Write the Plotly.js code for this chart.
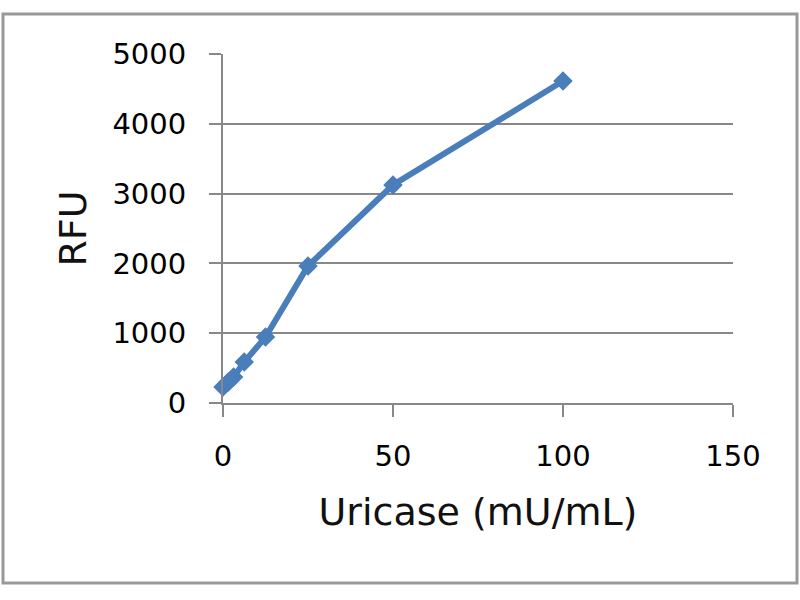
<!DOCTYPE html>
<html><head><meta charset="utf-8">
<script src="https://cdn.plot.ly/plotly-3.0.1.min.js"></script>
<style>html,body{margin:0;padding:0;background:#fff}#chart{width:800px;height:600px}</style>
</head><body><div id="chart"></div>
<script>
const uricase = [0, 1.5625, 3.125, 6.25, 12.5, 25, 50, 100];
const rfu = [230, 300, 372, 587, 945, 1963, 3123, 4613];
const xTicks = [0, 50, 100, 150];
const yTicks = [0, 1000, 2000, 3000, 4000, 5000];

const L = 223, R = 733, T = 54, B = 403;
const px = p => (p - L) / (R - L);
const py = p => (B - p) / (B - T);

Plotly.newPlot('chart', [{
  x: uricase, y: rfu, type: 'scatter', mode: 'lines+markers',
  line: {color: '#4a7ebb', width: 6},
  marker: {symbol: 'diamond', size: 15, color: '#4a7ebb'},
  cliponaxis: false,
  showlegend: false
}], {
  width: 800, height: 600,
  margin: {l: L, r: 800 - R, t: T, b: 600 - B},
  paper_bgcolor: '#fff', plot_bgcolor: '#fff',
  font: {family: 'DejaVu Sans, Verdana, sans-serif', color: '#000'},
  xaxis: {
    range: [0, 150], tickvals: xTicks, ticktext: xTicks.map(String),
    showgrid: false, zeroline: false, showline: true, linecolor: '#888', linewidth: 2,
    ticks: 'outside', ticklen: 12, tickcolor: '#888', tickwidth: 2,
    ticklabelstandoff: 14,
    tickfont: {size: 29, color: '#000'},
    title: {text: 'Uricase (mU/mL)', font: {size: 38, color: '#111'}, standoff: 27}
  },
  yaxis: {
    range: [0, 5000], tickvals: yTicks, ticktext: yTicks.map(String),
    showgrid: true, gridcolor: '#888', gridwidth: 2, zeroline: false,
    showline: true, linecolor: '#888', linewidth: 2,
    ticks: 'outside', ticklen: 12, tickcolor: '#888', tickwidth: 2,
    ticklabelstandoff: 17,
    tickfont: {size: 29, color: '#000'},
    title: {text: 'RFU', font: {size: 38, color: '#111'}, standoff: 14}
  },
  shapes: [{
    type: 'rect', xref: 'paper', yref: 'paper',
    x0: px(3), x1: px(797), y0: py(583), y1: py(14),
    line: {color: '#999', width: 3}, fillcolor: 'rgba(0,0,0,0)', layer: 'below'
  }]
}, {displayModeBar: false});
</script></body></html>
